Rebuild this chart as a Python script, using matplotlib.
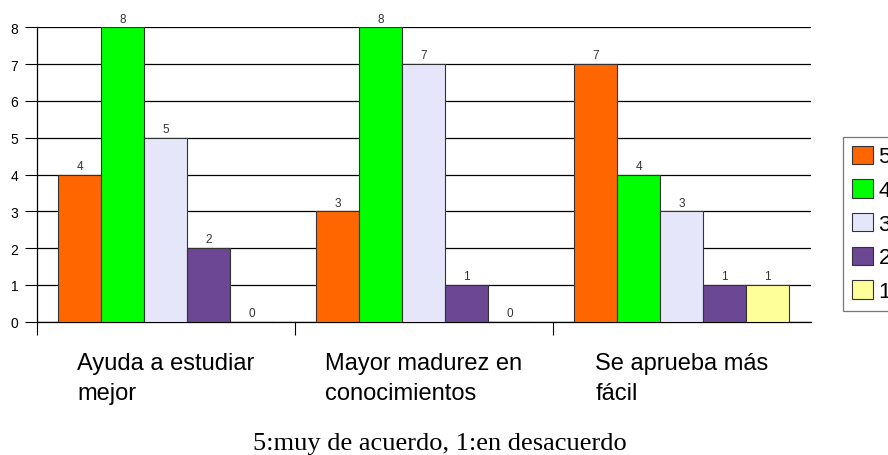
import matplotlib
matplotlib.use('Agg')
from matplotlib import pyplot as plt
import numpy as np

# datos de la encuesta
categorias = ['Ayuda a estudiar\nmejor', 'Mayor madurez en\nconocimientos', 'Se aprueba más\nfácil']
niveles = ['5', '4', '3', '2', '1']
valores_5 = [4, 3, 7]
valores_4 = [8, 8, 4]
valores_3 = [5, 7, 3]
valores_2 = [2, 1, 1]
valores_1 = [0, 0, 1]
colores = ['#FF6600', '#00FF00', '#E6E6FA', '#6B4794', '#FFFF99']
pie = '5:muy de acuerdo, 1:en desacuerdo'

plt.rcParams['font.family'] = ['Liberation Sans', 'DejaVu Sans']

fig = plt.figure(figsize=(8.88, 4.56), dpi=100)
ax = fig.add_axes([37/888, 1-322.7/456, 773.7/888, 294.4/456])

series = [valores_5, valores_4, valores_3, valores_2, valores_1]
ancho = 1/6
x = np.arange(len(categorias))
for j, (vals, col, lab) in enumerate(zip(series, colores, niveles)):
    barras = ax.bar(x + 1/12 + j*ancho, vals, width=ancho, align='edge',
                    color=col, edgecolor='#333333', linewidth=0.8, label=lab, zorder=3)
    ax.bar_label(barras, padding=2, fontsize=8.5, color='#333333')

ax.set_xlim(0, 3)
ax.set_ylim(0, 8)
ax.set_yticks(range(0, 9))
ax.yaxis.grid(True, color='black', linewidth=0.9)
ax.set_axisbelow(True)
ax.tick_params(axis='y', direction='out', length=8.5, width=0.8, pad=5, labelsize=10)

# etiquetas de categoria centradas, separadores como ticks menores
ax.set_xticks(x + 0.5)
ax.set_xticklabels(categorias, fontsize=17, multialignment='left', linespacing=1.45)
ax.set_xticks([0, 1, 2], minor=True)
ax.tick_params(axis='x', which='major', length=0, pad=22)
ax.tick_params(axis='x', which='minor', direction='out', length=9, width=0.8)

for s in ['top', 'right']:
    ax.spines[s].set_visible(False)
ax.spines['left'].set_linewidth(0.9)
ax.spines['bottom'].set_linewidth(0.9)

leg = ax.legend(loc='upper left', bbox_to_anchor=(843/888, 1-137.7/456),
                bbox_transform=fig.transFigure, borderaxespad=0, fontsize=16,
                fancybox=False, frameon=True, edgecolor='#555555',
                handlelength=0.95, handleheight=0.9, handletextpad=0.25,
                borderpad=0.4, labelspacing=0.53)
leg.get_frame().set_linewidth(0.9)

fig.text(440/888, 1-450/456, pie, ha='center', va='baseline',
         family='Liberation Serif', fontsize=19)

fig.savefig('out.png', dpi=100)
